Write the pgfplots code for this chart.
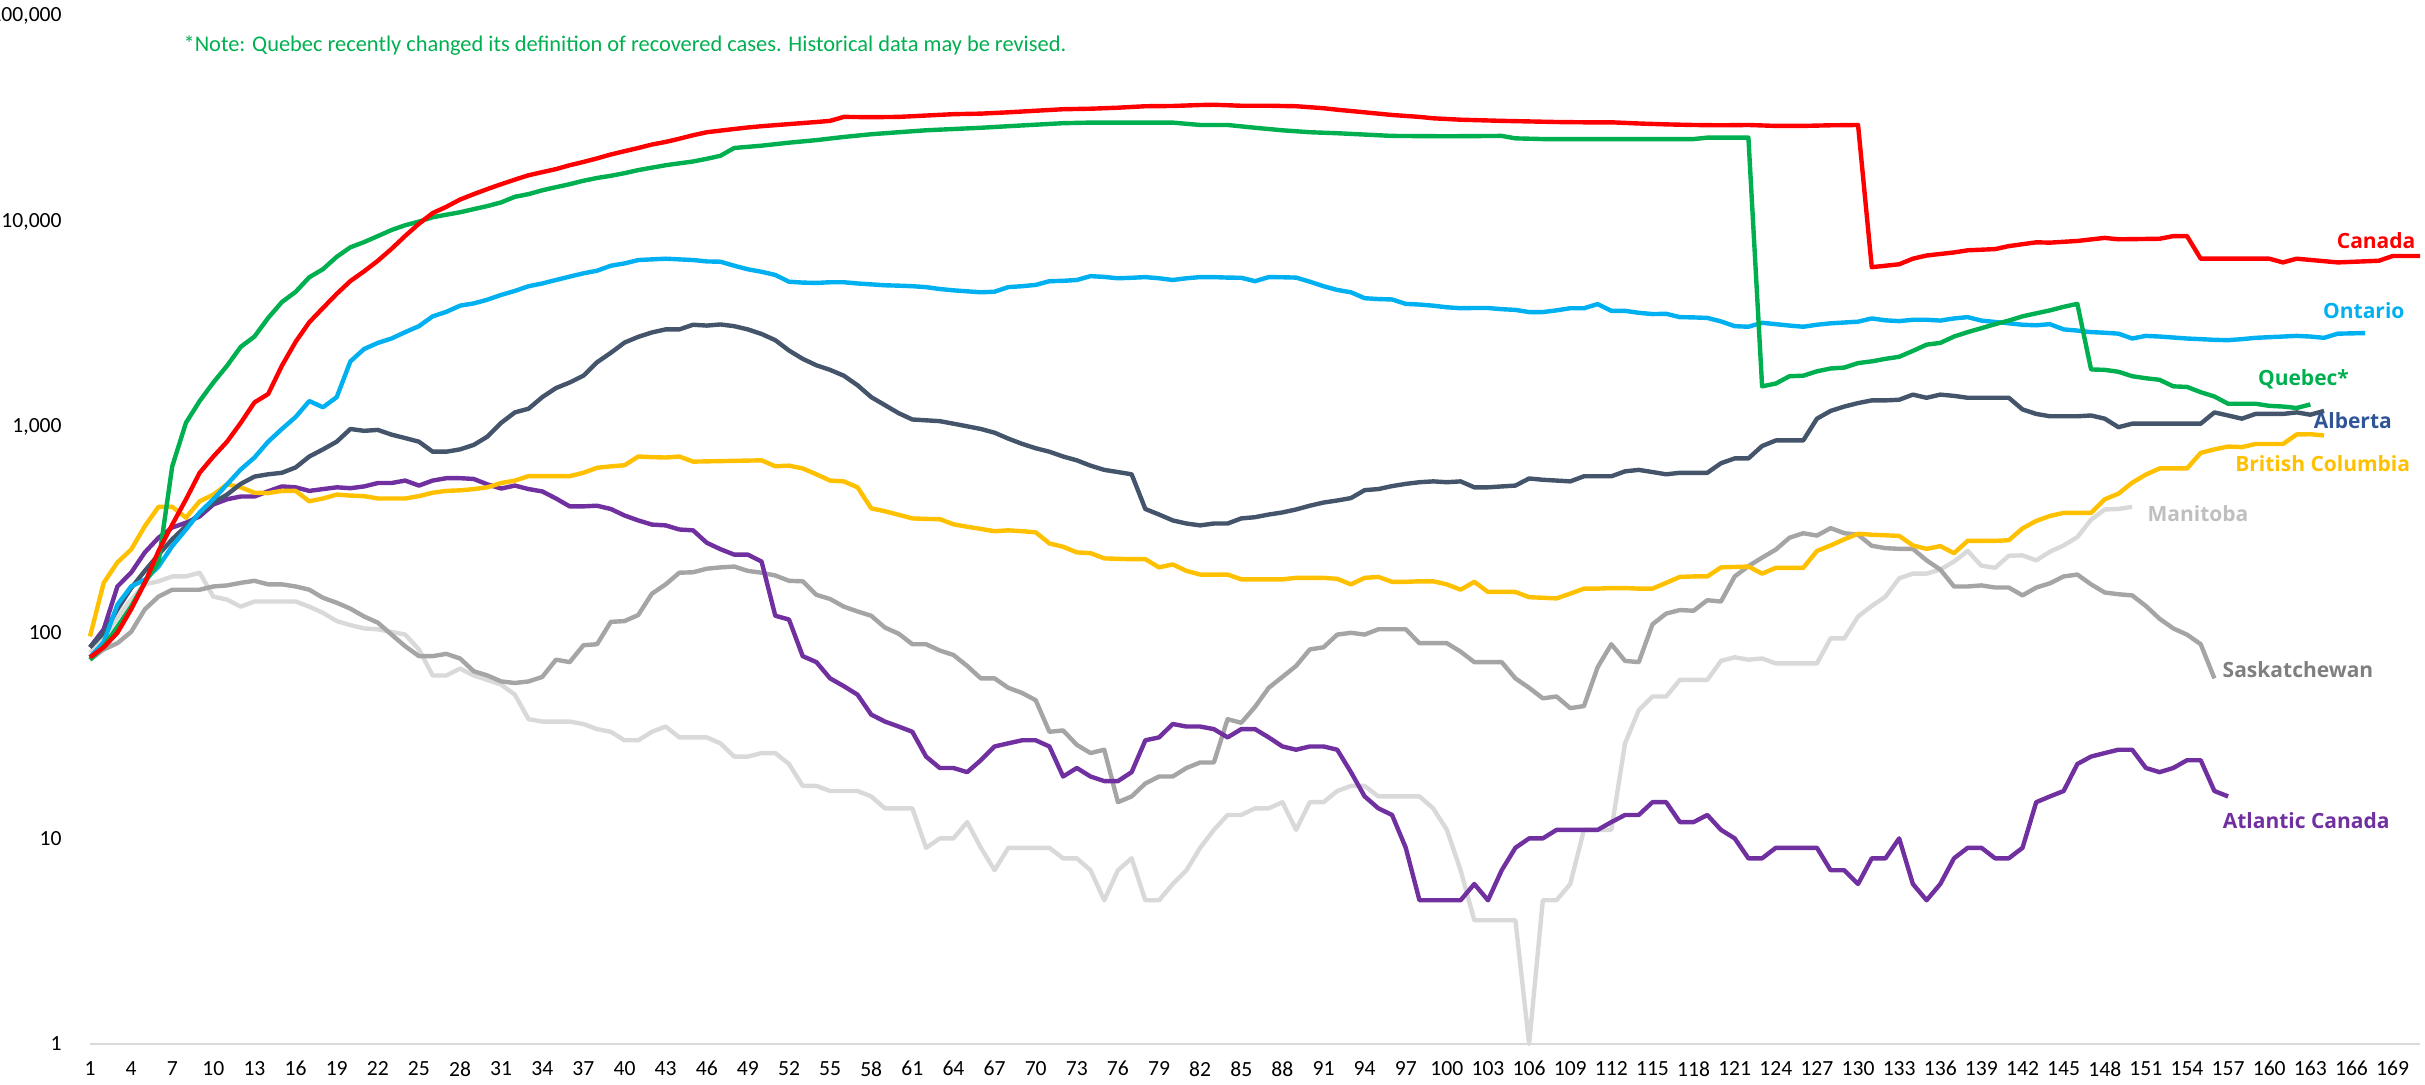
\documentclass[border=0pt]{standalone}
\usepackage{fontspec}
\setmainfont{Carlito}
\newfontfamily\labfont{Open Sans}
\usepackage{pgfplots}
\pgfplotsset{compat=1.18}
\definecolor{cCan}{HTML}{FF0000}
\definecolor{cQue}{HTML}{00B050}
\definecolor{cOnt}{HTML}{00B0F0}
\definecolor{cAlb}{HTML}{44546A}
\definecolor{cAlbLab}{HTML}{2F5597}
\definecolor{cBC}{HTML}{FFC000}
\definecolor{cMan}{HTML}{D9D9D9}
\definecolor{cManLab}{HTML}{BFBFBF}
\definecolor{cSas}{HTML}{A5A5A5}
\definecolor{cSasLab}{HTML}{7F7F7F}
\definecolor{cAtl}{HTML}{7030A0}
\definecolor{axgray}{HTML}{D9D9D9}
\begin{document}
\begin{tikzpicture}
\begin{axis}[
  scale only axis, width=1165pt, height=514pt,
  xmin=1, xmax=171, ymode=log, ymin=1, ymax=100000,
  clip=false,
  axis line style={draw=none},
  major tick length=0pt, minor tick length=0pt,
  yminorticks=false, xminorticks=false,
  xtick={1,4,...,169},
  ytick={1,10,100,1000,10000,100000},
  yticklabels={1,10,100,{1,000},{10,000},{100,000}},
  /pgf/number format/assume math mode=true,
  tick label style={font=\fontsize{10.8}{12}\selectfont, inner sep=0pt},
  yticklabel style={anchor=east, xshift=-14pt},
  xticklabel style={anchor=north, yshift=-8.5pt},
  every axis plot/.append style={line width=2.2pt, line join=round, no markers},
]
\draw[draw=axgray, line width=1pt] (rel axis cs:0,0) -- (rel axis cs:1,0);

% Manitoba
\addplot[cMan] coordinates {(1,80)(2,95)(3,118)(4,145)(5,172)(6,178)(7,188)(8,188)(9,196)(10,150)(11,145)(12,134)(13,142)(14,142)(15,142)(16,142)(17,134)(18,125)(19,114)(20,109)(21,105)(22,104)(23,101)(24,98)(25,83)(26,62)(27,62)(28,67)(29,62)(30,59)(31,56)(32,50)(33,38)(34,37)(35,37)(36,37)(37,36)(38,34)(39,33)(40,30)(41,30)(42,33)(43,35)(44,31)(45,31)(46,31)(47,29)(48,25)(49,25)(50,26)(51,26)(52,23)(53,18)(54,18)(55,17)(56,17)(57,17)(58,16)(59,14)(60,14)(61,14)(62,9)(63,10)(64,10)(65,12)(66,9)(67,7)(68,9)(69,9)(70,9)(71,9)(72,8)(73,8)(74,7)(75,5)(76,7)(77,8)(78,5)(79,5)(80,6)(81,7)(82,9)(83,11)(84,13)(85,13)(86,14)(87,14)(88,15)(89,11)(90,15)(91,15)(92,17)(93,18)(94,18)(95,16)(96,16)(97,16)(98,16)(99,14)(100,11)(101,7)(102,4)(103,4)(104,4)(105,4)(106,1)(107,5)(108,5)(109,6)(110,11)(111,11)(112,11)(113,29)(114,42)(115,49)(116,49)(117,59)(118,59)(119,59)(120,73)(121,76)(122,74)(123,75)(124,71)(125,71)(126,71)(127,71)(128,94)(129,94)(130,120)(131,135)(132,150)(133,184)(134,194)(135,194)(136,203)(137,222)(138,250)(139,212)(140,207)(141,237)(142,238)(143,225)(144,248)(145,266)(146,292)(147,355)(148,398)(149,400)(150,410)};

% Saskatchewan
\addplot[cSas] coordinates {(1,74)(2,83)(3,89)(4,101)(5,130)(6,150)(7,162)(8,162)(9,162)(10,168)(11,170)(12,175)(13,179)(14,172)(15,172)(16,168)(17,162)(18,148)(19,140)(20,131)(21,120)(22,112)(23,98)(24,86)(25,77)(26,77)(27,79)(28,75)(29,65)(30,62)(31,58)(32,57)(33,58)(34,61)(35,74)(36,72)(37,87)(38,88)(39,113)(40,114)(41,122)(42,155)(43,172)(44,196)(45,197)(46,205)(47,208)(48,210)(49,200)(50,196)(51,190)(52,179)(53,178)(54,153)(55,146)(56,134)(57,127)(58,121)(59,106)(60,99)(61,88)(62,88)(63,82)(64,78)(65,69)(66,60)(67,60)(68,54)(69,51)(70,47)(71,33)(72,33.5)(73,28.5)(74,26)(75,27)(76,15)(77,16)(78,18.5)(79,20)(80,20)(81,22)(82,23.4)(83,23.4)(84,38)(85,36.5)(86,43.6)(87,54)(88,61)(89,69)(90,83)(91,85)(92,98)(93,100)(94,98)(95,104)(96,104)(97,104)(98,89)(99,89)(100,89)(101,81)(102,72)(103,72)(104,72)(105,60)(106,54)(107,48)(108,49)(109,43)(110,44)(111,68)(112,88)(113,73)(114,72)(115,110)(116,124)(117,129)(118,128)(119,144)(120,142)(121,188)(122,211)(123,232)(124,254)(125,290)(126,305)(127,297)(128,323)(129,305)(130,300)(131,265)(132,258)(133,256)(134,256)(135,225)(136,203)(137,168)(138,168)(139,170)(140,166)(141,166)(142,152)(143,166)(144,174)(145,188)(146,192)(147,172)(148,157)(149,154)(150,152)(151,135)(152,117)(153,105)(154,98)(155,88)(156,60)};

% Atlantic Canada
\addplot[cAtl] coordinates {(1,85)(2,104)(3,168)(4,196)(5,246)(6,290)(7,325)(8,343)(9,368)(10,421)(11,446)(12,460)(13,460)(14,488)(15,515)(16,510)(17,490)(18,500)(19,510)(20,505)(21,515)(22,535)(23,535)(24,550)(25,520)(26,550)(27,565)(28,565)(29,560)(30,527)(31,503)(32,520)(33,500)(34,487)(35,450)(36,412)(37,412)(38,415)(39,400)(40,372)(41,352)(42,336)(43,333)(44,318)(45,315)(46,274)(47,255)(48,240)(49,240)(50,222)(51,121)(52,116)(53,77)(54,72)(55,60)(56,55)(57,50)(58,40)(59,37)(60,35)(61,33)(62,25)(63,22)(64,22)(65,21)(66,24)(67,28)(68,29)(69,30)(70,30)(71,28)(72,20)(73,22)(74,20)(75,19)(76,19)(77,21)(78,30)(79,31)(80,36)(81,35)(82,35)(83,34)(84,31)(85,34)(86,34)(87,31)(88,28)(89,27)(90,28)(91,28)(92,27)(93,21)(94,16)(95,14)(96,13)(97,9)(98,5)(99,5)(100,5)(101,5)(102,6)(103,5)(104,7)(105,9)(106,10)(107,10)(108,11)(109,11)(110,11)(111,11)(112,12)(113,13)(114,13)(115,15)(116,15)(117,12)(118,12)(119,13)(120,11)(121,10)(122,8)(123,8)(124,9)(125,9)(126,9)(127,9)(128,7)(129,7)(130,6)(131,8)(132,8)(133,10)(134,6)(135,5)(136,6)(137,8)(138,9)(139,9)(140,8)(141,8)(142,9)(143,15)(144,16)(145,17)(146,23)(147,25)(148,26)(149,27)(150,27)(151,22)(152,21)(153,22)(154,24)(155,24)(156,17)(157,16)};

% British Columbia
\addplot[cBC] coordinates {(1,96)(2,175)(3,220)(4,254)(5,330)(6,410)(7,410)(8,363)(9,436)(10,470)(11,527)(12,510)(13,480)(14,478)(15,490)(16,490)(17,436)(18,450)(19,470)(20,465)(21,462)(22,450)(23,450)(24,450)(25,462)(26,480)(27,490)(28,493)(29,500)(30,510)(31,535)(32,550)(33,578)(34,578)(35,578)(36,578)(37,600)(38,635)(39,645)(40,653)(41,720)(42,715)(43,712)(44,720)(45,680)(46,682)(47,684)(48,686)(49,688)(50,690)(51,646)(52,650)(53,630)(54,590)(55,550)(56,545)(57,510)(58,403)(59,390)(60,375)(61,360)(62,358)(63,357)(64,337)(65,328)(66,320)(67,312)(68,315)(69,312)(70,308)(71,272)(72,262)(73,246)(74,244)(75,230)(76,229)(77,228)(78,228)(79,208)(80,215)(81,200)(82,192)(83,192)(84,192)(85,182)(86,182)(87,182)(88,182)(89,185)(90,185)(91,185)(92,183)(93,172)(94,185)(95,187)(96,177)(97,177)(98,178)(99,178)(100,172)(101,162)(102,177)(103,158)(104,158)(105,158)(106,149)(107,148)(108,147)(109,155)(110,164)(111,164)(112,165)(113,165)(114,164)(115,164)(116,175)(117,187)(118,188)(119,188)(120,208)(121,209)(122,210)(123,194)(124,207)(125,207)(126,207)(127,250)(128,266)(129,285)(130,303)(131,300)(132,298)(133,296)(134,266)(135,256)(136,264)(137,244)(138,280)(139,280)(140,280)(141,282)(142,322)(143,350)(144,370)(145,383)(146,383)(147,383)(148,446)(149,475)(150,537)(151,588)(152,630)(153,630)(154,630)(155,750)(156,780)(157,805)(158,800)(159,828)(160,828)(161,828)(162,922)(163,924)(164,912)};

% Alberta
\addplot[cAlb] coordinates {(1,85)(2,100)(3,130)(4,165)(5,200)(6,240)(7,285)(8,330)(9,380)(10,430)(11,470)(12,530)(13,575)(14,590)(15,600)(16,637)(17,720)(18,780)(19,850)(20,980)(21,960)(22,970)(23,920)(24,885)(25,850)(26,760)(27,760)(28,780)(29,820)(30,900)(31,1050)(32,1180)(33,1230)(34,1400)(35,1550)(36,1650)(37,1780)(38,2070)(39,2300)(40,2580)(41,2750)(42,2890)(43,2990)(44,2990)(45,3150)(46,3120)(47,3160)(48,3100)(49,2990)(50,2840)(51,2650)(52,2360)(53,2150)(54,2000)(55,1900)(56,1780)(57,1600)(58,1400)(59,1280)(60,1170)(61,1090)(62,1080)(63,1070)(64,1040)(65,1010)(66,980)(67,940)(68,880)(69,830)(70,790)(71,760)(72,720)(73,690)(74,650)(75,620)(76,605)(77,590)(78,400)(79,376)(80,352)(81,340)(82,333)(83,340)(84,340)(85,360)(86,365)(87,376)(88,385)(89,398)(90,415)(91,430)(92,440)(93,452)(94,494)(95,500)(96,517)(97,530)(98,540)(99,545)(100,540)(101,545)(102,510)(103,510)(104,515)(105,520)(106,563)(107,555)(108,550)(109,545)(110,577)(111,577)(112,577)(113,610)(114,620)(115,605)(116,590)(117,600)(118,600)(119,600)(120,668)(121,705)(122,705)(123,810)(124,862)(125,862)(126,862)(127,1100)(128,1200)(129,1260)(130,1310)(131,1350)(132,1350)(133,1360)(134,1440)(135,1390)(136,1440)(137,1420)(138,1390)(139,1390)(140,1390)(141,1390)(142,1220)(143,1160)(144,1130)(145,1130)(146,1130)(147,1140)(148,1100)(149,1000)(150,1040)(151,1040)(152,1040)(153,1040)(154,1040)(155,1040)(156,1180)(157,1140)(158,1100)(159,1160)(160,1160)(161,1160)(162,1180)(163,1150)(164,1200)};

% Ontario
\addplot[cOnt] coordinates {(1,76)(2,90)(3,137)(4,168)(5,181)(6,210)(7,264)(8,318)(9,385)(10,446)(11,527)(12,623)(13,712)(14,850)(15,980)(16,1120)(17,1340)(18,1250)(19,1400)(20,2090)(21,2400)(22,2570)(23,2700)(24,2900)(25,3100)(26,3460)(27,3640)(28,3900)(29,4000)(30,4170)(31,4400)(32,4600)(33,4850)(34,5000)(35,5200)(36,5400)(37,5600)(38,5770)(39,6100)(40,6260)(41,6500)(42,6550)(43,6600)(44,6550)(45,6500)(46,6400)(47,6380)(48,6100)(49,5860)(50,5700)(51,5500)(52,5100)(53,5050)(54,5030)(55,5070)(56,5070)(57,5000)(58,4950)(59,4900)(60,4880)(61,4850)(62,4800)(63,4700)(64,4630)(65,4580)(66,4530)(67,4560)(68,4800)(69,4850)(70,4920)(71,5130)(72,5150)(73,5200)(74,5430)(75,5380)(76,5300)(77,5330)(78,5370)(79,5300)(80,5200)(81,5300)(82,5370)(83,5370)(84,5340)(85,5330)(86,5130)(87,5370)(88,5360)(89,5340)(90,5100)(91,4850)(92,4650)(93,4530)(94,4240)(95,4200)(96,4180)(97,3980)(98,3950)(99,3900)(100,3830)(101,3790)(102,3800)(103,3800)(104,3750)(105,3720)(106,3630)(107,3630)(108,3700)(109,3790)(110,3790)(111,3970)(112,3680)(113,3680)(114,3600)(115,3550)(116,3560)(117,3430)(118,3420)(119,3400)(120,3270)(121,3100)(122,3080)(123,3220)(124,3170)(125,3120)(126,3080)(127,3150)(128,3200)(129,3230)(130,3260)(131,3380)(132,3310)(133,3280)(134,3330)(135,3330)(136,3300)(137,3380)(138,3430)(139,3300)(140,3250)(141,3200)(142,3150)(143,3130)(144,3170)(145,2990)(146,2950)(147,2900)(148,2880)(149,2850)(150,2700)(151,2780)(152,2760)(153,2730)(154,2700)(155,2680)(156,2660)(157,2650)(158,2680)(159,2720)(160,2740)(161,2760)(162,2780)(163,2760)(164,2720)(165,2850)(166,2860)(167,2870)};

% Quebec
\addplot[cQue] coordinates {(1,74)(2,86)(3,107)(4,134)(5,176)(6,220)(7,645)(8,1050)(9,1340)(10,1650)(11,1990)(12,2460)(13,2760)(14,3400)(15,4060)(16,4550)(17,5360)(18,5870)(19,6740)(20,7500)(21,7950)(22,8500)(23,9100)(24,9600)(25,10000)(26,10500)(27,10800)(28,11100)(29,11500)(30,11900)(31,12400)(32,13200)(33,13600)(34,14200)(35,14700)(36,15200)(37,15800)(38,16300)(39,16700)(40,17200)(41,17800)(42,18300)(43,18800)(44,19200)(45,19600)(46,20200)(47,20900)(48,22800)(49,23100)(50,23400)(52,24200)(54,24900)(56,25800)(58,26600)(60,27200)(62,27800)(64,28200)(66,28600)(68,29100)(70,29600)(72,30100)(74,30300)(80,30300)(82,29500)(84,29500)(86,28600)(88,27800)(90,27200)(92,26900)(94,26500)(96,26100)(100,26000)(104,26100)(105,25400)(107,25200)(118,25200)(119,25600)(122,25600)(123,1580)(124,1630)(125,1770)(126,1780)(127,1870)(128,1930)(129,1950)(130,2050)(131,2090)(132,2150)(133,2200)(134,2350)(135,2520)(136,2570)(137,2760)(138,2900)(139,3030)(140,3170)(141,3300)(142,3460)(143,3580)(144,3700)(145,3850)(146,3980)(147,1910)(148,1900)(149,1860)(150,1770)(151,1730)(152,1700)(153,1580)(154,1570)(155,1480)(156,1410)(157,1300)(158,1300)(159,1300)(160,1270)(161,1260)(162,1240)(163,1290)};

% Canada
\addplot[cCan] coordinates {(1,76)(2,85)(3,100)(4,130)(5,175)(6,250)(7,336)(8,445)(9,600)(10,720)(11,850)(12,1050)(13,1320)(14,1450)(15,1990)(16,2600)(17,3240)(18,3800)(19,4450)(20,5140)(21,5730)(22,6450)(23,7370)(24,8520)(25,9760)(26,11000)(27,11800)(28,12800)(29,13600)(30,14400)(31,15200)(32,16000)(33,16800)(34,17400)(35,18000)(36,18800)(37,19500)(38,20300)(39,21200)(40,22000)(41,22800)(42,23700)(43,24400)(44,25300)(45,26300)(46,27200)(47,27700)(48,28200)(49,28700)(50,29100)(52,29800)(54,30500)(55,30900)(56,32300)(58,32200)(60,32300)(62,32800)(64,33300)(66,33500)(68,34000)(70,34600)(72,35200)(74,35400)(76,35800)(78,36400)(80,36500)(82,36900)(83,37000)(85,36600)(87,36600)(89,36400)(91,35600)(92,35000)(93,34500)(94,34000)(96,33000)(98,32300)(99,31800)(101,31300)(104,30900)(106,30700)(108,30500)(110,30400)(112,30400)(114,30000)(116,29700)(118,29500)(120,29400)(122,29500)(124,29200)(126,29200)(128,29400)(130,29500)(131,6000)(132,6100)(133,6200)(134,6600)(135,6840)(137,7080)(138,7250)(140,7350)(141,7600)(143,7930)(144,7900)(146,8050)(148,8330)(149,8200)(152,8250)(153,8500)(154,8500)(155,6600)(158,6600)(160,6600)(161,6330)(162,6600)(165,6330)(168,6450)(169,6800)(171,6800)};

% series labels
\tikzset{lab/.style={font={\fontsize{10.5}{12}\labfont\bfseries}, inner sep=0pt}}
\node[lab, text=cCan] at (axis cs:167.8,8110) {Canada};
\node[lab, text=cOnt] at (axis cs:166.9,3706) {Ontario};
\node[lab, text=cQue] at (axis cs:162.5,1710) {Quebec*};
\node[lab, text=cAlbLab] at (axis cs:166.1,1080) {Alberta};
\node[lab, text=cBC] at (axis cs:163.9,667) {British Columbia};
\node[lab, text=cManLab] at (axis cs:154.8,380) {Manitoba};
\node[lab, text=cSasLab] at (axis cs:162.1,66) {Saskatchewan};
\node[lab, text=cAtl] at (axis cs:162.7,12.2) {Atlantic Canada};
\node[anchor=west, inner sep=0pt, text=cQue, font={\fontsize{11.2}{13}\selectfont}] at (axis cs:7.8,71500) {*Note: Quebec recently changed its definition of recovered cases. Historical data may be revised.};
\end{axis}
\pgfresetboundingbox
\useasboundingbox (-45pt,-20.5pt) rectangle (1167.5pt,522pt);
\end{tikzpicture}
\end{document}
